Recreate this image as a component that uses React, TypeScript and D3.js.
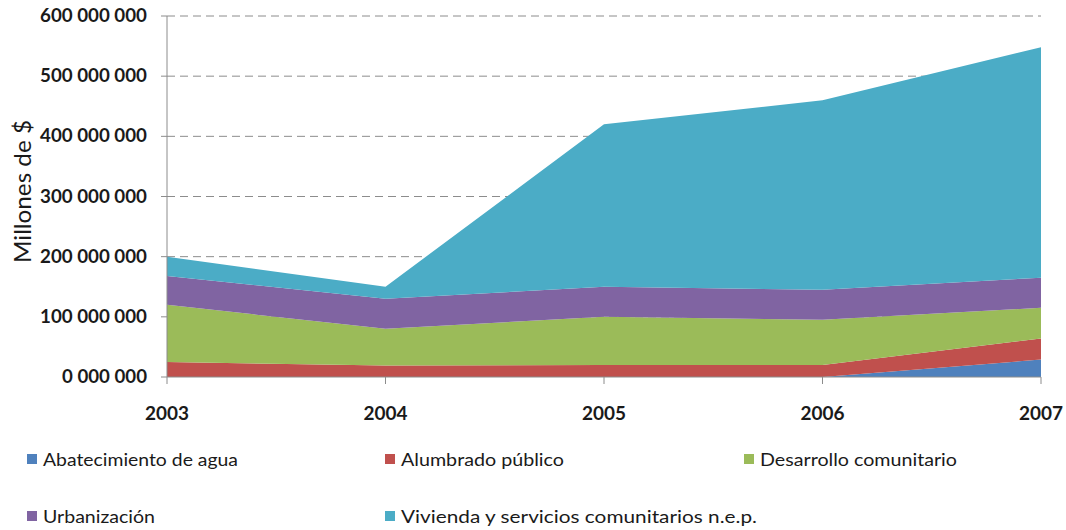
import React from "react";
import * as d3 from "d3";

const years = ["2003", "2004", "2005", "2006", "2007"];
const seriesNames = [
  "Abatecimiento de agua",
  "Alumbrado público",
  "Desarrollo comunitario",
  "Urbanización",
  "Vivienda y servicios comunitarios n.e.p.",
];
const abatecimiento = [0, 0, 0, 0, 29000000];
const alumbrado = [25000000, 19000000, 20000000, 20000000, 35000000];
const desarrollo = [95000000, 61000000, 80000000, 75000000, 51000000];
const urbanizacion = [48000000, 50000000, 50000000, 50000000, 50000000];
const vivienda = [32000000, 20000000, 270000000, 315000000, 383000000];
const yTicks = [0, 100000000, 200000000, 300000000, 400000000, 500000000, 600000000];
const yTickLabels = ["0 000 000", "100 000 000", "200 000 000", "300 000 000", "400 000 000", "500 000 000", "600 000 000"];
const colors = ["#4F81BD", "#C0504D", "#9BBB59", "#8064A2", "#4BACC6"];

export default function App() {
  const W = 1066, H = 530;
  const x0 = 167, x1 = 1041, yTop = 16, yBot = 377;
  const x = d3.scalePoint<string>().domain(years).range([x0, x1]);
  const y = d3.scaleLinear().domain([0, 600000000]).range([yBot, yTop]);
  const rows = years.map((yr, i) => ({
    year: yr,
    s0: abatecimiento[i],
    s1: alumbrado[i],
    s2: desarrollo[i],
    s3: urbanizacion[i],
    s4: vivienda[i],
  }));
  const keys = ["s0", "s1", "s2", "s3", "s4"];
  const stacked = d3.stack<any>().keys(keys)(rows);
  const area = d3
    .area<any>()
    .x((d) => x(d.data.year) as number)
    .y0((d) => y(d[0]))
    .y1((d) => y(d[1]));
  const font = "Lato, 'Open Sans', sans-serif";
  const legendPos = [
    [27, 466],
    [385, 466],
    [744, 466],
    [27, 523],
    [385, 523],
  ];
  const legendWidths = [195, 163, 197, 112, 356];
  return (
    <svg width={W} height={H} style={{ position: "absolute", left: 0, top: 0 }} fontFamily={font}>
      {yTicks.slice(1).map((t) => (
        <line key={t} x1={x0} x2={x1} y1={y(t)} y2={y(t)} stroke="#8c8c8c" strokeWidth={1} strokeDasharray="8,5" />
      ))}
      {stacked.map((s, i) => (
        <path key={i} d={area(s) as string} fill={colors[i]} stroke="none" />
      ))}
      <line x1={x0} x2={x0} y1={yTop} y2={yBot} stroke="#8c8c8c" />
      <line x1={x0} x2={x1} y1={yBot} y2={yBot} stroke="#8c8c8c" />
      {yTicks.map((t, i) => (
        <g key={t}>
          <line x1={x0 - 6} x2={x0} y1={y(t)} y2={y(t)} stroke="#8c8c8c" />
          <text
            x={147}
            y={y(t) + 6}
            textAnchor="end"
            fontSize={18}
            fontWeight="bold"
            fill="#1a1a1a"
            textLength={107 - (11 - yTickLabels[i].length) * 11}
            lengthAdjust="spacingAndGlyphs"
          >
            {yTickLabels[i]}
          </text>
        </g>
      ))}
      {years.map((yr) => (
        <g key={yr}>
          <line x1={x(yr)} x2={x(yr)} y1={yBot} y2={yBot + 7} stroke="#8c8c8c" />
          <text
            x={x(yr)}
            y={420}
            textAnchor="middle"
            fontSize={19}
            fontWeight="bold"
            fill="#1a1a1a"
            textLength={44}
            lengthAdjust="spacingAndGlyphs"
          >
            {yr}
          </text>
        </g>
      ))}
      <text
        transform={`translate(31,191.5) rotate(-90)`}
        textAnchor="middle"
        fontSize={24}
        fill="#1a1a1a"
        textLength={143}
        lengthAdjust="spacingAndGlyphs"
      >
        Millones de $
      </text>
      {seriesNames.map((n, i) => (
        <g key={n}>
          <rect x={legendPos[i][0]} y={legendPos[i][1] - 12} width={10} height={10} fill={colors[i]} />
          <text
            x={legendPos[i][0] + 16}
            y={legendPos[i][1]}
            fontSize={18}
            fill="#1a1a1a"
            textLength={legendWidths[i]}
            lengthAdjust="spacingAndGlyphs"
          >
            {n}
          </text>
        </g>
      ))}
    </svg>
  );
}
